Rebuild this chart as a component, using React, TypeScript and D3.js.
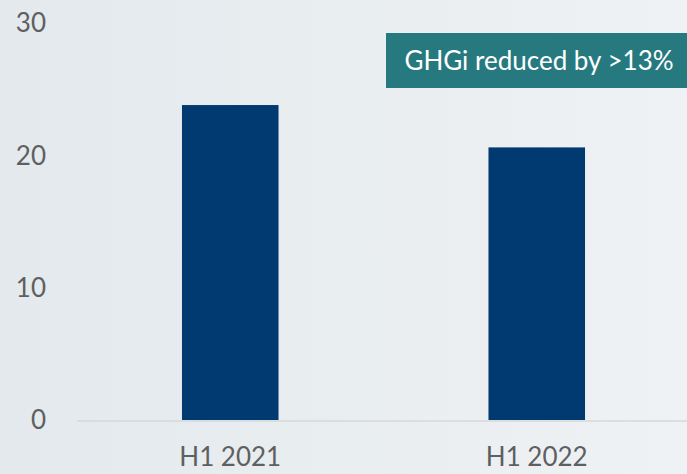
import React, { useEffect, useRef } from 'react';
import * as d3 from 'd3';

const categories = ['H1 2021', 'H1 2022'];
const values = [23.8, 20.6];
const yTicks = [0, 10, 20, 30];
const noteText = 'GHGi reduced by >13%';

const W = 687;
const H = 474;
const margin = { top: 23, right: 0, bottom: 54, left: 77 };

export default function App() {
  const ref = useRef<SVGSVGElement>(null);

  useEffect(() => {
    const svg = d3.select(ref.current);
    svg.selectAll('*').remove();

    // background gradient, darker on the left
    const defs = svg.append('defs');
    const grad = defs.append('linearGradient').attr('id', 'bg').attr('x1', '0%').attr('x2', '100%').attr('y1', '0%').attr('y2', '0%');
    grad.append('stop').attr('offset', '0%').attr('stop-color', '#e3e9ed');
    grad.append('stop').attr('offset', '100%').attr('stop-color', '#eff2f4');
    svg.append('rect').attr('width', W).attr('height', H).attr('fill', 'url(#bg)');

    const x = d3.scaleBand().domain(categories).range([margin.left, 690]).paddingInner(0.685).paddingOuter(0.3425);
    const y = d3.scaleLinear().domain([0, 30]).range([H - margin.bottom, margin.top]);

    const font = 'Lato, "Open Sans", sans-serif';

    // y tick labels
    svg.append('g')
      .selectAll('text')
      .data(yTicks)
      .enter()
      .append('text')
      .attr('x', 46)
      .attr('y', d => y(d))
      .attr('dy', '0.36em')
      .attr('text-anchor', 'end')
      .style('font-family', font)
      .style('font-size', '26px')
      .attr('fill', '#5f5f5f')
      .text(d => d);

    // bars
    svg.append('g')
      .selectAll('rect')
      .data(categories)
      .enter()
      .append('rect')
      .attr('x', d => x(d)!)
      .attr('y', (d, i) => y(values[i]))
      .attr('width', x.bandwidth())
      .attr('height', (d, i) => y(0) - y(values[i]))
      .attr('fill', '#003a70');

    // baseline
    svg.append('line')
      .attr('x1', margin.left).attr('x2', W)
      .attr('y1', y(0) + 1).attr('y2', y(0) + 1)
      .attr('stroke', '#d5d9dc').attr('stroke-width', 1.5);

    // x labels
    svg.append('g')
      .selectAll('text')
      .data(categories)
      .enter()
      .append('text')
      .attr('x', d => x(d)! + x.bandwidth() / 2)
      .attr('y', 466)
      .attr('text-anchor', 'middle')
      .style('font-family', font)
      .style('font-size', '26px')
      .attr('fill', '#5f5f5f')
      .text(d => d);

    // note box
    svg.append('rect')
      .attr('x', 386).attr('y', 33)
      .attr('width', W - 386).attr('height', 55)
      .attr('fill', '#267a7f');
    svg.append('text')
      .attr('x', 539).attr('y', 61)
      .attr('dy', '0.36em')
      .attr('text-anchor', 'middle')
      .style('font-family', font)
      .style('font-size', '26px')
      .attr('fill', '#ffffff')
      .text(noteText);
  }, []);

  return (
    <svg ref={ref} width={W} height={H} style={{ position: 'absolute', left: 0, top: 0 }} />
  );
}
